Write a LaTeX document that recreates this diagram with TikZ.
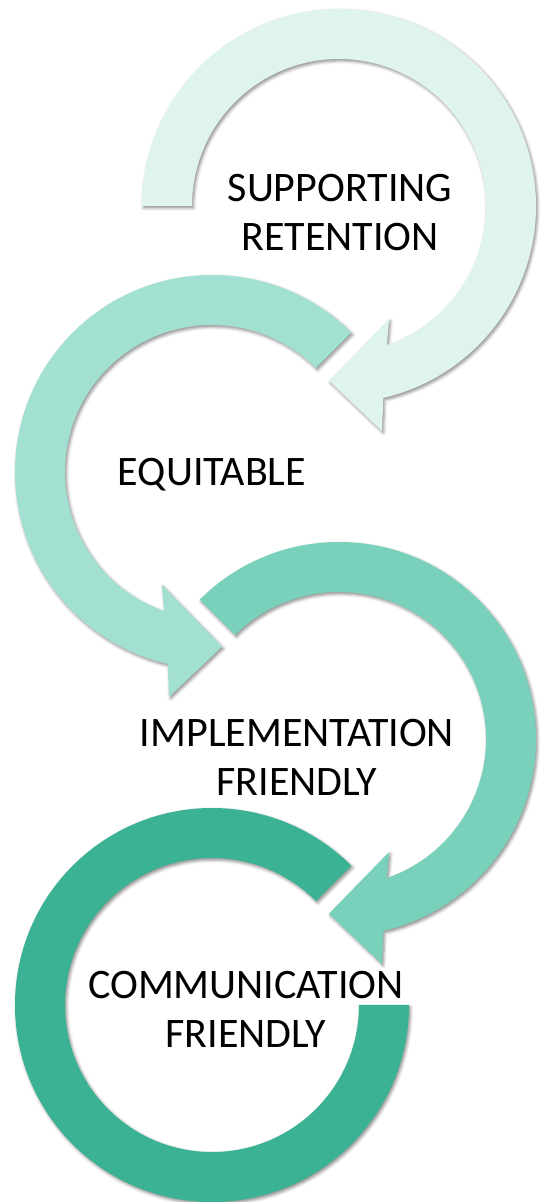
\documentclass[tikz,border=0pt]{standalone}
\usepackage{fontspec}
\setmainfont{Carlito}
\usetikzlibrary{shadows.blur}

\definecolor{mintA}{RGB}{224,244,239}
\definecolor{mintB}{RGB}{162,224,209}
\definecolor{mintC}{RGB}{122,209,187}
\definecolor{mintD}{RGB}{60,178,148}

\begin{document}
\begin{tikzpicture}[
  ring/.style={blur shadow={shadow xshift=1.5pt, shadow yshift=-2pt,
      shadow blur radius=3pt, shadow opacity=45}},
  ringtext/.style={font=\fontsize{42pt}{49pt}\selectfont, align=center, inner sep=0pt}
]

  \useasboundingbox (0,0) rectangle (541pt,1202pt);

  % First arrow, turning clockwise from the left
  \begin{scope}[shift={(339pt,996pt)}]
    \fill[ring, fill=mintA] (180:197pt) arc[start angle=180, end angle=-77, radius=197pt]
      -- (-79.2:229pt) -- (-93.3:175pt) -- (-66.1:123.6pt)
      -- (-71:147pt) arc[start angle=-71, end angle=180, radius=147pt] -- cycle;
  \end{scope}

  % Second arrow, turning counter-clockwise
  \begin{scope}[shift={(212pt,730pt)}]
    \fill[ring, fill=mintB] (45:197pt) arc[start angle=45, end angle=257, radius=197pt]
      -- (259.2:229pt) -- (273.3:175pt) -- (246.1:123.6pt)
      -- (251:147pt) arc[start angle=251, end angle=45, radius=147pt] -- cycle;
  \end{scope}

  % Third arrow, clockwise again
  \begin{scope}[shift={(339pt,463pt)}]
    \fill[ring, fill=mintC] (135:197pt) arc[start angle=135, end angle=-77, radius=197pt]
      -- (-79.2:229pt) -- (-93.3:175pt) -- (-66.1:123.6pt)
      -- (-71:147pt) arc[start angle=-71, end angle=135, radius=147pt] -- cycle;
  \end{scope}

  % Last ring, open at the upper right, no head
  \begin{scope}[shift={(212pt,197pt)}]
    \fill[ring, fill=mintD] (0:197pt) arc[start angle=0, end angle=-315, radius=197pt]
      -- (45:147pt) arc[start angle=45, end angle=360, radius=147pt] -- cycle;
  \end{scope}

  % Texts inside the rings
  \node[ringtext] (supporting) at (340pt,989pt) {SUPPORTING\\RETENTION};
  \node[ringtext, anchor=base] (equitable) at (212pt,716pt) {EQUITABLE};
  \node[ringtext] (implementation) at (297pt,445pt) {IMPLEMENTATION\\FRIENDLY};
  \node[ringtext] (communication) at (246pt,193pt) {COMMUNICATION\\FRIENDLY};

\end{tikzpicture}
\end{document}
